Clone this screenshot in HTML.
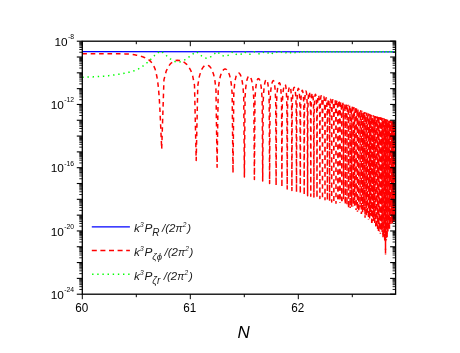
<!DOCTYPE html><html><head><meta charset="utf-8"><style>html,body{margin:0;padding:0;background:#fff;overflow:hidden}body{width:460px;height:353px;position:relative;font-family:"Liberation Sans",sans-serif}</style></head><body><svg width="460" height="353" viewBox="0 0 460 353" style="position:absolute;left:0;top:0;will-change:transform;opacity:0.9999">
<rect width="460" height="353" fill="#fff"/>
<clipPath id="cp"><rect x="82.3" y="41.2" width="313.3" height="253.0"/></clipPath>
<g clip-path="url(#cp)" fill="none">
<path d="M82.3,51.55 L395.6,51.80" stroke="#0000ff" stroke-width="1.3"/>
<path d="M82.30,53.70 L82.80,53.70 L83.30,53.70 L83.80,53.70 L84.30,53.70 L84.80,53.70 L85.30,53.70 L85.80,53.70 L86.30,53.70 L86.80,53.70 L87.30,53.70 L87.80,53.70 L88.30,53.70 L88.80,53.70 L89.30,53.70 L89.80,53.70 L90.30,53.70 L90.80,53.70 L91.30,53.70 L91.80,53.70 L92.30,53.70 L92.80,53.70 L93.30,53.70 L93.80,53.70 L94.30,53.70 L94.80,53.70 L95.30,53.70 L95.80,53.70 L96.30,53.70 L96.80,53.70 L97.30,53.70 L97.80,53.70 L98.30,53.70 L98.80,53.70 L99.30,53.70 L99.80,53.70 L100.30,53.70 L100.80,53.70 L101.30,53.70 L101.80,53.70 L102.30,53.70 L102.80,53.70 L103.30,53.70 L103.80,53.70 L104.30,53.70 L104.80,53.70 L105.30,53.70 L105.80,53.70 L106.30,53.71 L106.80,53.71 L107.30,53.71 L107.80,53.71 L108.30,53.71 L108.80,53.71 L109.30,53.71 L109.80,53.71 L110.30,53.71 L110.80,53.72 L111.30,53.72 L111.80,53.72 L112.30,53.72 L112.80,53.72 L113.30,53.72 L113.80,53.73 L114.30,53.73 L114.80,53.73 L115.30,53.73 L115.80,53.73 L116.30,53.74 L116.80,53.74 L117.30,53.74 L117.80,53.74 L118.30,53.75 L118.80,53.75 L119.30,53.75 L119.80,53.76 L120.30,53.76 L120.80,53.77 L121.30,53.78 L121.80,53.79 L122.30,53.80 L122.80,53.82 L123.30,53.83 L123.80,53.85 L124.30,53.87 L124.80,53.89 L125.30,53.91 L125.80,53.93 L126.30,53.96 L126.80,53.98 L127.30,54.01 L127.80,54.03 L128.30,54.06 L128.80,54.09 L129.30,54.12 L129.80,54.16 L130.30,54.20 L130.80,54.25 L131.30,54.31 L131.80,54.37 L132.30,54.44 L132.80,54.51 L133.30,54.59 L133.80,54.68 L134.30,54.77 L134.80,54.86 L135.30,54.96 L135.80,55.06 L136.30,55.16 L136.80,55.27 L137.30,55.38 L137.80,55.49 L138.30,55.61 L138.80,55.72 L139.30,55.84 L139.80,55.97 L140.30,56.10 L140.80,56.24 L141.30,56.38 L141.80,56.53 L142.30,56.69 L142.80,56.86 L143.30,57.04 L143.80,57.23 L144.30,57.43 L144.80,57.64 L145.30,57.86 L145.80,58.09 L146.30,58.34 L146.80,58.60 L147.30,58.88 L147.80,59.17 L148.30,59.47 L148.80,59.80 L149.30,60.18 L149.80,60.60 L150.30,61.09 L150.80,61.63 L151.30,62.23 L151.80,62.89 L152.30,63.61 L152.80,64.40 L153.30,65.26 L153.80,66.19 L154.30,67.19 L154.80,68.35 L155.30,69.84 L155.80,71.65 L156.30,73.78 L156.80,76.23 L157.30,79.00 L157.80,82.45 L158.30,86.91 L158.80,92.35 L159.30,98.70 L159.80,107.07 L160.30,117.85 L161.70,149.00 L163.95,79.89 L166.20,71.08 L168.44,66.39 L170.68,63.51 L172.92,61.70 L175.15,60.67 L177.37,60.26 L179.60,60.40 L181.86,61.07 L184.15,62.28 L186.42,64.10 L188.62,66.69 L190.71,70.34 L192.67,75.77 L194.50,85.32 L196.20,160.43 L197.77,85.86 L199.24,76.85 L200.65,71.97 L202.01,68.89 L203.34,66.90 L204.66,65.69 L205.97,65.11 L207.30,65.10 L208.62,65.62 L209.91,66.70 L211.18,68.40 L212.41,70.88 L213.62,74.44 L214.81,79.81 L215.96,89.31 L217.10,167.23 L218.22,89.80 L219.32,80.80 L220.42,75.93 L221.49,72.86 L222.55,70.89 L223.59,69.69 L224.60,69.12 L225.60,69.10 L226.58,69.62 L227.56,70.70 L228.52,72.41 L229.46,74.91 L230.38,78.48 L231.28,83.87 L232.15,93.38 L233.00,173.00 L233.79,93.88 L234.53,84.85 L235.23,79.94 L235.92,76.83 L236.59,74.81 L237.27,73.57 L237.97,72.95 L238.70,72.90 L239.45,73.38 L240.18,74.42 L240.91,76.08 L241.62,78.51 L242.33,82.03 L243.03,87.35 L243.72,96.80 L244.40,177.00 L245.06,97.19 L245.71,88.13 L246.34,83.19 L246.95,80.05 L247.57,78.01 L248.18,76.73 L248.79,76.09 L249.40,76.00 L250.03,76.45 L250.67,77.47 L251.32,79.12 L251.96,81.55 L252.60,85.07 L253.22,90.39 L253.82,99.84 L254.40,179.60 L254.95,100.18 L255.47,91.08 L255.98,86.10 L256.49,82.92 L256.98,80.82 L257.48,79.49 L257.98,78.77 L258.50,78.60 L259.03,78.95 L259.56,79.86 L260.10,81.38 L260.64,83.68 L261.18,87.06 L261.70,92.25 L262.21,101.56 L262.70,181.00 L263.18,101.67 L263.66,92.47 L264.13,87.40 L264.59,84.14 L265.05,81.97 L265.50,80.57 L265.95,79.81 L266.40,79.60 L266.83,79.92 L267.23,80.80 L267.63,82.29 L268.01,84.56 L268.40,87.92 L268.79,93.09 L269.19,102.39 L269.60,183.53 L270.04,102.50 L270.52,93.31 L271.03,88.26 L271.54,85.03 L272.05,82.88 L272.53,81.52 L272.98,80.78 L273.40,80.60 L273.77,80.95 L274.12,81.86 L274.45,83.41 L274.76,85.74 L275.08,89.16 L275.40,94.39 L275.74,103.78 L276.10,185.45 L276.49,104.08 L276.92,95.00 L277.37,90.07 L277.83,86.95 L278.29,84.90 L278.72,83.62 L279.13,82.94 L279.50,82.80 L279.83,83.17 L280.14,84.08 L280.43,85.61 L280.71,87.92 L280.99,91.31 L281.28,96.51 L281.58,105.84 L281.90,187.17 L282.26,106.02 L282.66,96.87 L283.09,91.87 L283.53,88.68 L283.97,86.58 L284.38,85.26 L284.76,84.55 L285.10,84.40 L285.40,84.77 L285.66,85.69 L285.91,87.24 L286.16,89.57 L286.40,92.99 L286.65,98.22 L286.91,107.59 L287.20,189.00 L287.52,107.87 L287.86,98.78 L288.21,93.82 L288.57,90.67 L288.93,88.60 L289.29,87.30 L289.63,86.61 L289.96,86.46 L290.27,86.83 L290.55,87.73 L290.79,89.24 L291.00,91.52 L291.21,94.88 L291.42,100.05 L291.65,109.36 L291.90,190.62 L292.19,109.47 L292.47,100.27 L292.77,95.20 L293.06,91.94 L293.36,89.77 L293.66,88.37 L293.96,87.60 L294.25,87.39 L294.55,87.70 L294.84,88.57 L295.13,90.07 L295.41,92.35 L295.69,95.71 L295.97,100.89 L296.24,110.20 L296.50,192.21 L296.76,110.31 L297.01,101.12 L297.25,96.06 L297.49,92.81 L297.73,90.65 L297.97,89.28 L298.20,88.53 L298.43,88.36 L298.66,88.73 L298.89,89.66 L299.12,91.23 L299.35,93.58 L299.59,97.03 L299.82,102.29 L300.06,111.68 L300.30,193.52 L300.54,111.97 L300.79,102.85 L301.04,97.86 L301.29,94.67 L301.54,92.56 L301.79,91.22 L302.04,90.48 L302.29,90.29 L302.54,90.62 L302.78,91.51 L303.03,93.02 L303.27,95.30 L303.51,98.67 L303.74,103.84 L303.97,113.14 L304.20,194.85 L304.42,113.23 L304.65,104.02 L304.87,98.94 L305.08,95.66 L305.30,93.48 L305.51,92.07 L305.73,91.28 L305.94,91.05 L306.15,91.36 L306.36,92.22 L306.57,93.70 L306.77,95.97 L306.98,99.32 L307.19,104.48 L307.39,113.78 L307.60,195.63 L307.81,113.87 L308.01,104.67 L308.21,99.60 L308.41,96.34 L308.62,94.17 L308.82,92.78 L309.02,92.02 L309.21,91.81 L309.41,92.14 L309.61,93.03 L309.81,94.54 L310.01,96.84 L310.21,100.22 L310.40,105.42 L310.60,114.74 L310.80,196.37 L311.00,114.90 L311.20,105.72 L311.39,100.68 L311.59,97.45 L311.79,95.30 L311.98,93.93 L312.18,93.19 L312.37,93.01 L312.56,93.35 L312.76,94.25 L312.95,95.78 L313.14,98.08 L313.33,101.48 L313.52,106.67 L313.71,116.00 L313.90,197.09 L314.09,116.16 L314.28,106.98 L314.47,101.93 L314.67,98.69 L314.86,96.54 L315.06,95.17 L315.26,94.42 L315.45,94.22 L315.65,94.55 L315.85,95.44 L316.04,96.95 L316.24,99.23 L316.43,102.61 L316.62,107.78 L316.81,117.09 L317.00,197.80 L317.19,117.20 L317.37,107.99 L317.56,102.92 L317.75,99.66 L317.93,97.48 L318.12,96.08 L318.30,95.31 L318.49,95.08 L318.67,95.40 L318.85,96.26 L319.03,97.75 L319.21,100.02 L319.38,103.37 L319.56,108.54 L319.73,117.83 L319.90,198.47 L320.07,117.91 L320.24,108.70 L320.40,103.62 L320.57,100.35 L320.73,98.16 L320.89,96.76 L321.06,95.98 L321.22,95.75 L321.38,96.06 L321.54,96.93 L321.70,98.42 L321.86,100.68 L322.02,104.04 L322.18,109.21 L322.34,118.51 L322.50,199.08 L322.66,118.60 L322.82,109.40 L322.98,104.32 L323.13,101.06 L323.29,98.89 L323.45,97.49 L323.61,96.73 L323.76,96.51 L323.92,96.84 L324.07,97.72 L324.23,99.22 L324.38,101.52 L324.54,104.90 L324.69,110.09 L324.85,119.42 L325.00,199.65 L325.15,119.59 L325.31,110.42 L325.46,105.38 L325.61,102.16 L325.76,100.02 L325.91,98.66 L326.06,97.92 L326.21,97.74 L326.36,98.10 L326.51,99.00 L326.66,100.53 L326.81,102.84 L326.96,106.23 L327.11,111.42 L327.25,120.74 L327.40,200.33 L327.55,120.88 L327.69,111.68 L327.83,106.61 L327.97,103.35 L328.11,101.17 L328.25,99.77 L328.39,98.99 L328.52,98.76 L328.66,99.07 L328.79,99.93 L328.93,101.41 L329.06,103.67 L329.20,107.02 L329.33,112.18 L329.47,121.46 L329.60,201.15 L329.73,121.53 L329.87,112.31 L330.00,107.22 L330.13,103.94 L330.26,101.74 L330.39,100.32 L330.52,99.53 L330.65,99.29 L330.78,99.58 L330.91,100.43 L331.04,101.90 L331.17,104.16 L331.30,107.49 L331.43,112.64 L331.56,121.92 L331.70,201.93 L331.84,121.97 L331.97,112.74 L332.11,107.65 L332.25,104.36 L332.38,102.16 L332.52,100.74 L332.65,99.94 L332.79,99.70 L332.92,99.99 L333.06,100.84 L333.19,102.31 L333.33,104.56 L333.46,107.90 L333.60,113.04 L333.73,122.32 L333.87,202.73 L334.00,122.37 L334.14,113.14 L334.27,108.05 L334.40,104.76 L334.54,102.56 L334.67,101.14 L334.80,100.35 L334.94,100.11 L335.07,100.40 L335.20,101.25 L335.33,102.72 L335.46,104.98 L335.59,108.32 L335.72,113.47 L335.86,122.75 L335.99,203.36 L336.11,122.82 L336.24,113.59 L336.37,108.51 L336.50,105.23 L336.63,103.03 L336.76,101.62 L336.89,100.83 L337.01,100.60" stroke="#ff0000" stroke-width="1.5" stroke-dasharray="4.6 3.8" stroke-linejoin="round"/>
<path d="M370.67,215.87 L370.73,137.08 L370.80,127.85 L370.87,122.76 L370.93,119.47 L371.00,117.27 L371.07,115.85 L371.13,115.05 L371.20,114.81 M393.80,221.25 L393.84,144.19 L393.89,134.94 L393.93,129.84 L393.97,126.53 L394.02,124.32 L394.06,122.89 L394.10,122.08 L394.15,121.82" stroke="#ff0000" stroke-width="1.5" stroke-dasharray="4.6 3.8" stroke-dashoffset="4.57" stroke-linejoin="round"/>
<path d="M385.52,254.60 L385.57,141.60 L385.62,132.36 L385.67,127.26 L385.72,123.96 L385.78,121.76 L385.83,120.33 L385.88,119.52 L385.93,119.27 M394.84,122.00 L394.88,122.28 L394.92,123.11 L394.96,124.57 L395.01,126.81 L395.05,130.13 L395.09,135.26 L395.13,144.53 L395.18,218.30" stroke="#ff0000" stroke-width="1.5" stroke-dasharray="4.6 3.8" stroke-dashoffset="3.51" stroke-linejoin="round"/>
<path d="M371.72,222.91 L371.79,137.47 L371.86,128.24 L371.92,123.14 L371.99,119.86 L372.05,117.65 L372.12,116.23 L372.18,115.43 L372.25,115.18 M373.78,220.73 L373.84,138.15 L373.90,128.91 L373.97,123.81 L374.03,120.52 L374.09,118.31 L374.16,116.88 L374.22,116.08 L374.28,115.83" stroke="#ff0000" stroke-width="1.5" stroke-dasharray="4.6 3.8" stroke-dashoffset="0.16" stroke-linejoin="round"/>
<path d="M337.01,100.60 L337.14,100.91 L337.27,101.76 L337.39,103.25 L337.52,105.51 L337.64,108.86 L337.77,114.02 L337.89,123.31 L338.02,199.29 M345.30,204.12 L345.41,126.21 L345.52,117.00 L345.62,111.92 L345.73,108.65 L345.83,106.47 L345.94,105.07 L346.04,104.29 L346.15,104.06 M350.18,207.92 L350.28,128.25 L350.37,119.04 L350.47,113.96 L350.57,110.69 L350.66,108.51 L350.76,107.10 L350.86,106.32 L350.95,106.09 M358.79,211.40 L358.87,131.94 L358.95,122.72 L359.04,117.64 L359.12,114.36 L359.20,112.17 L359.28,110.76 L359.37,109.97 L359.45,109.74 M393.10,219.33 L393.14,143.99 L393.18,134.75 L393.23,129.64 L393.27,126.34 L393.32,124.13 L393.36,122.69 L393.40,121.88 L393.45,121.63" stroke="#ff0000" stroke-width="1.5" stroke-dasharray="4.6 3.8" stroke-dashoffset="5.74" stroke-linejoin="round"/>
<path d="M351.71,207.01 L351.81,128.91 L351.90,119.70 L352.00,114.62 L352.09,111.34 L352.18,109.16 L352.28,107.75 L352.37,106.97 L352.46,106.74 M368.49,219.80 L368.56,136.17 L368.63,126.95 L368.70,121.86 L368.77,118.58 L368.84,116.38 L368.91,114.96 L368.97,114.17 L369.04,113.94 M383.45,118.46 L383.50,118.74 L383.56,119.58 L383.61,121.04 L383.66,123.28 L383.71,126.61 L383.77,131.75 L383.82,141.02 L383.87,236.16 M389.44,228.45 L389.49,142.90 L389.53,133.66 L389.58,128.55 L389.63,125.25 L389.68,123.04 L389.72,121.61 L389.77,120.81 L389.82,120.55" stroke="#ff0000" stroke-width="1.5" stroke-dasharray="4.6 3.8" stroke-dashoffset="4.10" stroke-linejoin="round"/>
<path d="M367.93,113.45 L368.00,113.75 L368.07,114.60 L368.14,116.08 L368.21,118.33 L368.28,121.68 L368.35,126.83 L368.42,136.11 L368.49,219.80 M377.67,228.69 L377.73,139.25 L377.79,130.01 L377.84,124.90 L377.90,121.61 L377.96,119.40 L378.02,117.96 L378.08,117.16 L378.14,116.91 M381.74,117.92 L381.79,118.20 L381.85,119.04 L381.90,120.50 L381.95,122.75 L382.01,126.08 L382.06,131.21 L382.12,140.48 L382.17,231.97 M392.74,121.43 L392.79,121.71 L392.83,122.54 L392.87,124.00 L392.92,126.24 L392.96,129.57 L393.01,134.70 L393.05,143.97 L393.10,219.33" stroke="#ff0000" stroke-width="1.5" stroke-dasharray="4.6 3.8" stroke-dashoffset="1.85" stroke-linejoin="round"/>
<path d="M362.63,213.46 L362.71,133.59 L362.79,124.37 L362.86,119.29 L362.94,116.01 L363.02,113.81 L363.09,112.40 L363.17,111.61 L363.25,111.38 M363.86,210.12 L363.93,134.12 L364.01,124.90 L364.08,119.81 L364.16,116.53 L364.23,114.33 L364.31,112.92 L364.38,112.13 L364.46,111.90 M372.76,221.35 L372.83,137.82 L372.89,128.59 L372.95,123.49 L373.02,120.20 L373.08,118.00 L373.15,116.57 L373.21,115.77 L373.27,115.52 M376.24,116.39 L376.30,116.68 L376.36,117.52 L376.42,118.98 L376.48,121.22 L376.54,124.55 L376.60,129.69 L376.66,138.96 L376.72,229.32 M385.11,119.00 L385.17,119.28 L385.22,120.12 L385.27,121.59 L385.32,123.83 L385.37,127.16 L385.42,132.30 L385.47,141.57 L385.52,254.60 M390.93,225.46 L390.98,143.36 L391.02,134.12 L391.07,129.01 L391.12,125.72 L391.16,123.50 L391.21,122.07 L391.25,121.26 L391.30,121.01" stroke="#ff0000" stroke-width="1.5" stroke-dasharray="4.6 3.8" stroke-dashoffset="4.62" stroke-linejoin="round"/>
<path d="M358.12,109.17 L358.21,109.47 L358.29,110.33 L358.37,111.81 L358.46,114.07 L358.54,117.42 L358.62,122.58 L358.71,131.87 L358.79,211.40 M365.64,112.42 L365.71,112.72 L365.79,113.57 L365.86,115.05 L365.93,117.31 L366.00,120.66 L366.08,125.81 L366.15,135.10 L366.22,215.28 M389.82,120.55 L389.86,120.84 L389.91,121.67 L389.96,123.13 L390.00,125.37 L390.05,128.70 L390.10,133.84 L390.14,143.10 L390.19,224.50" stroke="#ff0000" stroke-width="1.5" stroke-dasharray="4.6 3.8" stroke-dashoffset="4.39" stroke-linejoin="round"/>
<path d="M353.20,206.14 L353.30,129.55 L353.39,120.33 L353.48,115.25 L353.57,111.98 L353.66,109.79 L353.75,108.38 L353.84,107.60 L353.93,107.37 M361.38,213.91 L361.46,133.06 L361.54,123.84 L361.62,118.75 L361.70,115.47 L361.78,113.28 L361.85,111.87 L361.93,111.08 L362.01,110.85 M373.27,115.52 L373.34,115.81 L373.40,116.65 L373.46,118.12 L373.53,120.36 L373.59,123.69 L373.65,128.83 L373.72,138.11 L373.78,220.73 M380.41,233.50 L380.47,140.00 L380.53,130.76 L380.58,125.65 L380.64,122.36 L380.69,120.15 L380.75,118.72 L380.80,117.91 L380.86,117.66 M395.52,122.18 L395.56,122.46" stroke="#ff0000" stroke-width="1.5" stroke-dasharray="4.6 3.8" stroke-dashoffset="4.10" stroke-linejoin="round"/>
<path d="M342.69,102.68 L342.80,102.99 L342.92,103.86 L343.03,105.35 L343.14,107.62 L343.25,110.97 L343.36,116.14 L343.47,125.44 L343.58,199.34 M343.58,199.34 L343.69,125.52 L343.80,116.31 L343.91,111.24 L344.01,107.97 L344.12,105.78 L344.23,104.38 L344.34,103.60 L344.45,103.38 M369.59,218.47 L369.66,136.64 L369.73,127.42 L369.79,122.33 L369.86,119.04 L369.93,116.84 L370.00,115.42 L370.06,114.63 L370.13,114.39 M370.13,114.39 L370.20,114.69 L370.27,115.53 L370.33,117.01 L370.40,119.26 L370.47,122.60 L370.53,127.75 L370.60,137.03 L370.67,215.87 M379.97,117.41 L380.02,117.69 L380.08,118.53 L380.13,119.99 L380.19,122.23 L380.25,125.56 L380.30,130.70 L380.36,139.97 L380.41,233.50 M382.17,231.97 L382.22,140.52 L382.28,131.28 L382.33,126.17 L382.39,122.88 L382.44,120.67 L382.49,119.24 L382.55,118.44 L382.60,118.19 M384.29,118.73 L384.34,119.01 L384.39,119.85 L384.44,121.31 L384.50,123.56 L384.55,126.89 L384.60,132.02 L384.65,141.29 L384.70,240.67 M390.56,120.79 L390.61,121.07 L390.66,121.90 L390.70,123.36 L390.75,125.60 L390.79,128.93 L390.84,134.07 L390.89,143.33 L390.93,225.46" stroke="#ff0000" stroke-width="1.5" stroke-dasharray="4.6 3.8" stroke-dashoffset="2.21" stroke-linejoin="round"/>
<path d="M366.80,112.94 L366.87,113.24 L366.94,114.09 L367.01,115.57 L367.08,117.83 L367.15,121.17 L367.23,126.33 L367.30,135.61 L367.37,212.80 M374.28,115.83 L374.34,116.12 L374.41,116.96 L374.47,118.42 L374.53,120.67 L374.59,124.00 L374.65,129.14 L374.72,138.41 L374.78,222.94 M376.72,229.32 L376.78,138.99 L376.84,129.75 L376.90,124.65 L376.96,121.35 L377.02,119.14 L377.08,117.71 L377.14,116.91 L377.20,116.66" stroke="#ff0000" stroke-width="1.5" stroke-dasharray="4.6 3.8" stroke-dashoffset="4.43" stroke-linejoin="round"/>
<path d="M338.02,199.29 L338.14,123.40 L338.27,114.18 L338.39,109.10 L338.51,105.83 L338.63,103.65 L338.76,102.24 L338.88,101.46 L339.00,101.24 M341.79,201.22 L341.91,124.81 L342.02,115.60 L342.13,110.52 L342.25,107.26 L342.36,105.08 L342.47,103.68 L342.58,102.90 L342.69,102.68 M352.46,106.74 L352.56,107.05 L352.65,107.91 L352.74,109.40 L352.83,111.66 L352.93,115.01 L353.02,120.17 L353.11,129.47 L353.20,206.14 M354.65,205.59 L354.74,130.16 L354.83,120.95 L354.92,115.87 L355.01,112.59 L355.10,110.40 L355.19,108.99 L355.28,108.21 L355.37,107.98 M384.70,240.67 L384.75,141.33 L384.81,132.09 L384.86,126.99 L384.91,123.69 L384.96,121.48 L385.01,120.05 L385.06,119.25 L385.11,119.00 M386.73,119.54 L386.78,119.82 L386.83,120.66 L386.88,122.12 L386.93,124.37 L386.97,127.70 L387.02,132.83 L387.07,142.10 L387.12,237.50 M391.66,219.45 L391.71,143.58 L391.75,134.34 L391.80,129.23 L391.84,125.93 L391.89,123.72 L391.93,122.29 L391.98,121.48 L392.02,121.22" stroke="#ff0000" stroke-width="1.5" stroke-dasharray="4.6 3.8" stroke-dashoffset="8.27" stroke-linejoin="round"/>
<path d="M340.88,101.95 L341.00,102.26 L341.11,103.13 L341.22,104.62 L341.34,106.89 L341.45,110.25 L341.57,115.42 L341.68,124.72 L341.79,201.22 M344.45,103.38 L344.56,103.69 L344.66,104.55 L344.77,106.04 L344.88,108.31 L344.99,111.66 L345.09,116.83 L345.20,126.12 L345.30,204.12 M359.45,109.74 L359.53,110.04 L359.61,110.90 L359.69,112.38 L359.78,114.64 L359.86,117.99 L359.94,123.14 L360.02,132.43 L360.10,207.25 M360.10,207.25 L360.18,132.50 L360.26,123.28 L360.34,118.20 L360.42,114.92 L360.50,112.73 L360.58,111.32 L360.66,110.53 L360.74,110.30 M365.05,217.71 L365.13,134.64 L365.20,125.42 L365.27,120.33 L365.35,117.05 L365.42,114.86 L365.49,113.44 L365.57,112.65 L365.64,112.42 M372.25,115.18 L372.31,115.47 L372.37,116.32 L372.44,117.78 L372.50,120.03 L372.57,123.37 L372.63,128.51 L372.70,137.78 L372.76,221.35 M379.51,231.45 L379.57,139.75 L379.63,130.51 L379.68,125.40 L379.74,122.11 L379.80,119.90 L379.85,118.46 L379.91,117.66 L379.97,117.41 M383.87,236.16 L383.92,141.06 L383.98,131.82 L384.03,126.72 L384.08,123.42 L384.13,121.21 L384.18,119.78 L384.24,118.98 L384.29,118.73 M388.29,120.06 L388.34,120.34 L388.39,121.18 L388.44,122.64 L388.49,124.88 L388.53,128.21 L388.58,133.35 L388.63,142.62 L388.68,230.82 M388.68,230.82 L388.73,142.65 L388.77,133.41 L388.82,128.31 L388.87,125.01 L388.92,122.80 L388.97,121.37 L389.01,120.56 L389.06,120.31" stroke="#ff0000" stroke-width="1.5" stroke-dasharray="4.6 3.8" stroke-dashoffset="5.24" stroke-linejoin="round"/>
<path d="M356.76,108.58 L356.85,108.88 L356.93,109.74 L357.02,111.23 L357.10,113.49 L357.19,116.84 L357.28,122.00 L357.36,131.29 L357.45,211.83 M389.06,120.31 L389.11,120.59 L389.16,121.43 L389.20,122.89 L389.25,125.13 L389.30,128.46 L389.35,133.60 L389.39,142.86 L389.44,228.45 M393.45,121.63 L393.49,121.91 L393.54,122.74 L393.58,124.20 L393.62,126.44 L393.67,129.76 L393.71,134.90 L393.75,144.16 L393.80,221.25 M395.18,218.30 L395.22,144.55 L395.26,135.31 L395.30,130.20 L395.35,126.90 L395.39,124.68 L395.43,123.25 L395.47,122.43 L395.52,122.18" stroke="#ff0000" stroke-width="1.5" stroke-dasharray="4.6 3.8" stroke-dashoffset="5.29" stroke-linejoin="round"/>
<path d="M346.15,104.06 L346.25,104.37 L346.36,105.24 L346.46,106.73 L346.57,109.00 L346.67,112.35 L346.77,117.51 L346.88,126.81 L346.98,205.03 M346.98,205.03 L347.08,126.90 L347.18,117.69 L347.29,112.61 L347.39,109.34 L347.49,107.16 L347.59,105.75 L347.70,104.97 L347.80,104.75 M374.78,222.94 L374.84,138.44 L374.90,129.21 L374.96,124.11 L375.02,120.81 L375.09,118.60 L375.15,117.17 L375.21,116.37 L375.27,116.12" stroke="#ff0000" stroke-width="1.5" stroke-dasharray="4.6 3.8" stroke-dashoffset="7.64" stroke-linejoin="round"/>
<path d="M339.00,101.24 L339.12,101.55 L339.24,102.41 L339.36,103.91 L339.48,106.17 L339.60,109.53 L339.71,114.70 L339.83,123.99 L339.95,202.89 M349.40,105.43 L349.50,105.74 L349.59,106.60 L349.69,108.09 L349.79,110.36 L349.89,113.71 L349.99,118.87 L350.08,128.17 L350.18,207.92 M355.37,107.98 L355.45,108.29 L355.54,109.15 L355.63,110.63 L355.72,112.89 L355.81,116.24 L355.89,121.40 L355.98,130.69 L356.07,209.68 M360.74,110.30 L360.82,110.60 L360.90,111.46 L360.98,112.94 L361.06,115.20 L361.14,118.55 L361.22,123.70 L361.30,132.99 L361.38,213.91 M367.37,212.80 L367.44,135.68 L367.51,126.45 L367.58,121.37 L367.65,118.08 L367.72,115.89 L367.79,114.47 L367.86,113.69 L367.93,113.45 M378.14,116.91 L378.19,117.19 L378.25,118.03 L378.31,119.49 L378.37,121.73 L378.43,125.06 L378.48,130.20 L378.54,139.46 L378.60,230.98 M381.30,230.10 L381.35,140.25 L381.41,131.01 L381.46,125.91 L381.52,122.61 L381.57,120.41 L381.63,118.97 L381.68,118.17 L381.74,117.92 M391.30,121.01 L391.34,121.29 L391.39,122.13 L391.44,123.59 L391.48,125.83 L391.53,129.15 L391.57,134.28 L391.62,143.55 L391.66,219.45" stroke="#ff0000" stroke-width="1.5" stroke-dasharray="4.6 3.8" stroke-dashoffset="8.09" stroke-linejoin="round"/>
<path d="M339.95,202.89 L340.07,124.08 L340.18,114.87 L340.30,109.80 L340.42,106.53 L340.53,104.35 L340.65,102.95 L340.76,102.17 L340.88,101.95 M350.95,106.09 L351.05,106.40 L351.14,107.26 L351.24,108.75 L351.33,111.02 L351.43,114.37 L351.52,119.53 L351.62,128.83 L351.71,207.01 M392.38,224.06 L392.43,143.79 L392.47,134.55 L392.52,129.44 L392.56,126.14 L392.61,123.93 L392.65,122.49 L392.70,121.68 L392.74,121.43" stroke="#ff0000" stroke-width="1.5" stroke-dasharray="4.6 3.8" stroke-dashoffset="4.91" stroke-linejoin="round"/>
<path d="M366.22,215.28 L366.29,135.16 L366.37,125.94 L366.44,120.85 L366.51,117.57 L366.58,115.38 L366.65,113.96 L366.73,113.18 L366.80,112.94 M375.76,226.13 L375.82,138.72 L375.88,129.49 L375.94,124.38 L376.00,121.09 L376.06,118.88 L376.12,117.45 L376.18,116.64 L376.24,116.39 M377.20,116.66 L377.26,116.94 L377.32,117.77 L377.37,119.24 L377.43,121.48 L377.49,124.81 L377.55,129.94 L377.61,139.21 L377.67,228.69 M378.60,230.98 L378.66,139.50 L378.71,130.26 L378.77,125.15 L378.83,121.86 L378.89,119.65 L378.94,118.22 L379.00,117.41 L379.06,117.16" stroke="#ff0000" stroke-width="1.5" stroke-dasharray="4.6 3.8" stroke-dashoffset="1.39" stroke-linejoin="round"/>
<path d="M357.45,211.83 L357.53,131.36 L357.62,122.14 L357.70,117.06 L357.78,113.78 L357.87,111.59 L357.95,110.18 L358.04,109.40 L358.12,109.17 M392.02,121.22 L392.07,121.50 L392.11,122.34 L392.16,123.80 L392.20,126.04 L392.25,129.36 L392.29,134.50 L392.34,143.76 L392.38,224.06" stroke="#ff0000" stroke-width="1.5" stroke-dasharray="4.6 3.8" stroke-dashoffset="3.29" stroke-linejoin="round"/>
<path d="M387.12,237.50 L387.17,142.14 L387.22,132.90 L387.27,127.79 L387.32,124.50 L387.37,122.29 L387.42,120.86 L387.47,120.05 L387.52,119.80" stroke="#ff0000" stroke-width="1.5" stroke-dasharray="4.6 3.8" stroke-dashoffset="7.93" stroke-linejoin="round"/>
<path d="M347.80,104.75 L347.90,105.06 L348.00,105.92 L348.10,107.41 L348.20,109.68 L348.30,113.04 L348.40,118.20 L348.50,127.49 L348.60,208.13 M369.04,113.94 L369.11,114.23 L369.18,115.08 L369.25,116.56 L369.32,118.81 L369.39,122.15 L369.45,127.30 L369.52,136.59 L369.59,218.47 M375.27,116.12 L375.33,116.41 L375.39,117.24 L375.45,118.71 L375.51,120.95 L375.58,124.28 L375.64,129.42 L375.70,138.69 L375.76,226.13" stroke="#ff0000" stroke-width="1.5" stroke-dasharray="4.6 3.8" stroke-dashoffset="2.88" stroke-linejoin="round"/>
<path d="M348.60,208.13 L348.70,127.58 L348.80,118.37 L348.90,113.29 L349.00,110.02 L349.10,107.84 L349.20,106.43 L349.30,105.65 L349.40,105.43 M363.25,111.38 L363.32,111.68 L363.40,112.53 L363.48,114.01 L363.55,116.27 L363.63,119.61 L363.70,124.77 L363.78,134.05 L363.86,210.12 M364.46,111.90 L364.53,112.20 L364.61,113.05 L364.68,114.53 L364.75,116.79 L364.83,120.13 L364.90,125.29 L364.98,134.57 L365.05,217.71 M383.03,237.25 L383.08,140.78 L383.13,131.55 L383.19,126.44 L383.24,123.15 L383.29,120.94 L383.35,119.51 L383.40,118.71 L383.45,118.46 M385.93,119.27 L385.98,119.56 L386.03,120.39 L386.08,121.86 L386.13,124.10 L386.18,127.43 L386.23,132.57 L386.28,141.84 L386.33,240.24 M386.33,240.24 L386.38,141.87 L386.43,132.63 L386.48,127.53 L386.53,124.23 L386.58,122.02 L386.63,120.59 L386.68,119.79 L386.73,119.54 M390.19,224.50 L390.24,143.13 L390.28,133.89 L390.33,128.79 L390.38,125.49 L390.42,123.28 L390.47,121.85 L390.52,121.04 L390.56,120.79 M394.15,121.82 L394.19,122.10 L394.23,122.93 L394.28,124.39 L394.32,126.63 L394.36,129.95 L394.41,135.08 L394.45,144.35 L394.49,220.55" stroke="#ff0000" stroke-width="1.5" stroke-dasharray="4.6 3.8" stroke-dashoffset="5.92" stroke-linejoin="round"/>
<path d="M353.93,107.37 L354.02,107.68 L354.11,108.54 L354.21,110.02 L354.30,112.29 L354.39,115.64 L354.48,120.79 L354.56,130.09 L354.65,205.59 M362.01,110.85 L362.09,111.15 L362.17,112.00 L362.24,113.48 L362.32,115.74 L362.40,119.09 L362.48,124.24 L362.55,133.53 L362.63,213.46 M371.20,114.81 L371.26,115.10 L371.33,115.95 L371.40,117.42 L371.46,119.67 L371.53,123.00 L371.59,128.15 L371.66,137.43 L371.72,222.91 M379.06,117.16 L379.12,117.44 L379.17,118.28 L379.23,119.74 L379.29,121.98 L379.34,125.31 L379.40,130.45 L379.46,139.71 L379.51,231.45 M380.86,117.66 L380.91,117.94 L380.97,118.78 L381.02,120.24 L381.08,122.49 L381.13,125.81 L381.19,130.95 L381.24,140.22 L381.30,230.10" stroke="#ff0000" stroke-width="1.5" stroke-dasharray="4.6 3.8" stroke-dashoffset="3.89" stroke-linejoin="round"/>
<path d="M356.07,209.68 L356.16,130.77 L356.24,121.55 L356.33,116.47 L356.42,113.19 L356.50,111.00 L356.59,109.59 L356.67,108.81 L356.76,108.58 M382.60,118.19 L382.65,118.47 L382.71,119.31 L382.76,120.77 L382.81,123.01 L382.87,126.34 L382.92,131.48 L382.97,140.75 L383.03,237.25 M387.52,119.80 L387.57,120.09 L387.61,120.92 L387.66,122.39 L387.71,124.63 L387.76,127.96 L387.81,133.09 L387.86,142.36 L387.91,231.38 M387.91,231.38 L387.96,142.40 L388.00,133.16 L388.05,128.05 L388.10,124.76 L388.15,122.55 L388.20,121.12 L388.25,120.31 L388.29,120.06 M394.49,220.55 L394.54,144.37 L394.58,135.13 L394.62,130.02 L394.66,126.72 L394.71,124.51 L394.75,123.07 L394.79,122.26 L394.84,122.00" stroke="#ff0000" stroke-width="1.5" stroke-dasharray="4.6 3.8" stroke-dashoffset="3.25" stroke-linejoin="round"/>
<path d="M82.30,77.20 L82.55,77.20 L82.80,77.19 L83.05,77.19 L83.30,77.18 L83.55,77.18 L83.80,77.17 L84.05,77.17 L84.30,77.16 L84.55,77.16 L84.80,77.15 L85.05,77.15 L85.30,77.14 L85.55,77.13 L85.80,77.13 L86.05,77.12 L86.30,77.12 L86.55,77.11 L86.80,77.10 L87.05,77.09 L87.30,77.09 L87.55,77.08 L87.80,77.07 L88.05,77.06 L88.30,77.06 L88.55,77.05 L88.80,77.04 L89.05,77.03 L89.30,77.02 L89.55,77.02 L89.80,77.01 L90.05,77.00 L90.30,76.99 L90.55,76.98 L90.80,76.97 L91.05,76.96 L91.30,76.95 L91.55,76.94 L91.80,76.93 L92.05,76.92 L92.30,76.91 L92.55,76.90 L92.80,76.89 L93.05,76.88 L93.30,76.86 L93.55,76.85 L93.80,76.84 L94.05,76.83 L94.30,76.82 L94.55,76.80 L94.80,76.79 L95.05,76.78 L95.30,76.76 L95.55,76.75 L95.80,76.74 L96.05,76.72 L96.30,76.71 L96.55,76.69 L96.80,76.68 L97.05,76.66 L97.30,76.65 L97.55,76.63 L97.80,76.62 L98.05,76.60 L98.30,76.59 L98.55,76.57 L98.80,76.55 L99.05,76.54 L99.30,76.52 L99.55,76.50 L99.80,76.49 L100.05,76.47 L100.30,76.45 L100.55,76.43 L100.80,76.41 L101.05,76.40 L101.30,76.38 L101.55,76.36 L101.80,76.34 L102.05,76.31 L102.30,76.29 L102.55,76.27 L102.80,76.25 L103.05,76.23 L103.30,76.21 L103.55,76.18 L103.80,76.16 L104.05,76.14 L104.30,76.11 L104.55,76.09 L104.80,76.06 L105.05,76.04 L105.30,76.01 L105.55,75.99 L105.80,75.96 L106.05,75.94 L106.30,75.91 L106.55,75.88 L106.80,75.86 L107.05,75.83 L107.30,75.80 L107.55,75.78 L107.80,75.75 L108.05,75.72 L108.30,75.69 L108.55,75.67 L108.80,75.64 L109.05,75.61 L109.30,75.58 L109.55,75.55 L109.80,75.52 L110.05,75.49 L110.30,75.46 L110.55,75.43 L110.80,75.40 L111.05,75.37 L111.30,75.34 L111.55,75.31 L111.80,75.28 L112.05,75.25 L112.30,75.21 L112.55,75.18 L112.80,75.14 L113.05,75.11 L113.30,75.08 L113.55,75.04 L113.80,75.00 L114.05,74.97 L114.30,74.93 L114.55,74.90 L114.80,74.86 L115.05,74.82 L115.30,74.78 L115.55,74.75 L115.80,74.71 L116.05,74.67 L116.30,74.63 L116.55,74.59 L116.80,74.55 L117.05,74.51 L117.30,74.47 L117.55,74.43 L117.80,74.39 L118.05,74.35 L118.30,74.31 L118.55,74.27 L118.80,74.23 L119.05,74.19 L119.30,74.15 L119.55,74.11 L119.80,74.07 L120.05,74.03 L120.30,73.98 L120.55,73.94 L120.80,73.90 L121.05,73.85 L121.30,73.81 L121.55,73.77 L121.80,73.72 L122.05,73.68 L122.30,73.63 L122.55,73.58 L122.80,73.54 L123.05,73.49 L123.30,73.44 L123.55,73.40 L123.80,73.35 L124.05,73.30 L124.30,73.25 L124.55,73.20 L124.80,73.15 L125.05,73.10 L125.30,73.05 L125.55,73.00 L125.80,72.94 L126.05,72.89 L126.30,72.84 L126.55,72.78 L126.80,72.73 L127.05,72.67 L127.30,72.62 L127.55,72.56 L127.80,72.51 L128.05,72.45 L128.30,72.40 L128.55,72.34 L128.80,72.28 L129.05,72.22 L129.30,72.16 L129.55,72.10 L129.80,72.04 L130.05,71.97 L130.30,71.91 L130.55,71.85 L130.80,71.78 L131.05,71.71 L131.30,71.64 L131.55,71.57 L131.80,71.50 L132.05,71.43 L132.30,71.35 L132.55,71.28 L132.80,71.20 L133.05,71.12 L133.30,71.04 L133.55,70.95 L133.80,70.87 L134.05,70.78 L134.30,70.69 L134.55,70.60 L134.80,70.50 L135.05,70.40 L135.30,70.31 L135.55,70.20 L135.80,70.10 L136.05,70.00 L136.30,69.89 L136.55,69.78 L136.80,69.67 L137.05,69.55 L137.30,69.44 L137.55,69.32 L137.80,69.20 L138.05,69.08 L138.30,68.96 L138.55,68.83 L138.80,68.70 L139.05,68.57 L139.30,68.44 L139.55,68.30 L139.80,68.16 L140.05,68.01 L140.30,67.86 L140.55,67.70 L140.80,67.55 L141.05,67.38 L141.30,67.22 L141.55,67.05 L141.80,66.87 L142.05,66.70 L142.30,66.52 L142.55,66.34 L142.80,66.16 L143.05,65.97 L143.30,65.79 L143.55,65.60 L143.80,65.41 L144.05,65.22 L144.30,65.03 L144.55,64.84 L144.80,64.64 L145.05,64.45 L145.30,64.24 L145.55,64.04 L145.80,63.83 L146.05,63.61 L146.30,63.39 L146.55,63.17 L146.80,62.95 L147.05,62.73 L147.30,62.50 L147.55,62.27 L147.80,62.04 L148.05,61.81 L148.30,61.58 L148.55,61.35 L148.80,61.12 L149.05,60.89 L149.30,60.65 L149.55,60.40 L149.80,60.16 L150.05,59.91 L150.30,59.67 L150.55,59.42 L150.80,59.17 L151.05,58.92 L151.30,58.68 L151.55,58.43 L151.80,58.18 L152.05,57.94 L152.30,57.70 L152.55,57.46 L152.80,57.21 L153.05,56.97 L153.30,56.72 L153.55,56.47 L153.80,56.23 L154.05,55.98 L154.30,55.74 L154.55,55.50 L154.80,55.26 L155.05,55.03 L155.30,54.80 L155.55,54.58 L155.80,54.36 L156.05,54.16 L156.30,53.96 L156.55,53.76 L156.80,53.56 L157.05,53.37 L157.30,53.19 L157.55,53.01 L157.80,52.84 L158.05,52.67 L158.30,52.52 L158.55,52.37 L158.80,52.23 L159.05,52.10 L159.30,51.98 L159.55,51.86 L159.80,51.74 L160.05,51.64 L160.30,51.54 L160.55,51.68 L160.80,52.15 L161.05,52.00 L161.30,51.85 L161.55,51.70 L161.80,51.70 L162.05,51.90 L162.30,52.10 L162.55,52.31 L162.80,52.52 L163.05,52.73 L163.30,52.94 L163.55,53.15 L163.80,53.36 L164.05,53.57 L164.30,53.79 L164.55,54.00 L164.80,54.22 L165.05,54.43 L165.30,54.65 L165.55,54.87 L165.80,55.08 L166.05,55.30 L166.30,55.52 L166.55,55.73 L166.80,55.95 L167.05,56.17 L167.30,56.38 L167.55,56.59 L167.80,56.81 L168.05,57.02 L168.30,57.23 L168.55,57.44 L168.80,57.65 L169.05,57.85 L169.30,58.05 L169.55,58.25 L169.80,58.45 L170.05,58.65 L170.30,58.84 L170.55,59.03 L170.80,59.21 L171.05,59.39 L171.30,59.57 L171.55,59.74 L171.80,59.91 L172.05,60.07 L172.30,60.23 L172.55,60.39 L172.80,60.54 L173.05,60.68 L173.30,60.82 L173.55,60.95 L173.80,61.07 L174.05,61.19 L174.30,61.30 L174.55,61.41 L174.80,61.51 L175.05,61.60 L175.30,61.68 L175.55,61.76 L175.80,61.83 L176.05,61.89 L176.30,61.94 L176.55,61.99 L176.80,62.03 L177.05,62.06 L177.30,62.08 L177.55,62.10 L177.80,62.11 L178.05,62.11 L178.30,62.10 L178.55,62.08 L178.80,62.06 L179.05,62.03 L179.30,61.99 L179.55,61.95 L179.80,61.90 L180.05,61.84 L180.30,61.77 L180.55,61.70 L180.80,61.62 L181.05,61.54 L181.30,61.45 L181.55,61.36 L181.80,61.26 L182.05,61.15 L182.30,61.04 L182.55,60.93 L182.80,60.81 L183.05,60.69 L183.30,60.57 L183.55,60.44 L183.80,60.30 L184.05,60.17 L184.30,60.03 L184.55,59.88 L184.80,59.74 L185.05,59.59 L185.30,59.44 L185.55,59.28 L185.80,59.13 L186.05,58.97 L186.30,58.80 L186.55,58.64 L186.80,58.48 L187.05,58.31 L187.30,58.14 L187.55,57.97 L187.80,57.80 L188.05,57.62 L188.30,57.45 L188.55,57.27 L188.80,57.09 L189.05,56.91 L189.30,56.73 L189.55,56.55 L189.80,56.37 L190.05,56.19 L190.30,56.00 L190.55,55.82 L190.80,55.63 L191.05,55.45 L191.30,55.26 L191.55,55.08 L191.80,54.89 L192.05,54.70 L192.30,54.52 L192.55,54.33 L192.80,54.14 L193.05,53.95 L193.30,53.77 L193.55,53.58 L193.80,53.39 L194.05,53.21 L194.30,53.02 L194.55,52.84 L194.80,52.65 L195.05,52.47 L195.30,52.29 L195.55,52.11 L195.80,51.93 L196.05,51.75 L196.30,51.71 L196.55,51.89 L196.80,52.08 L197.05,52.27 L197.30,52.46 L197.55,52.65 L197.80,52.85 L198.05,53.05 L198.30,53.25 L198.55,53.46 L198.80,53.66 L199.05,53.87 L199.30,54.08 L199.55,54.29 L199.80,54.49 L200.05,54.70 L200.30,54.91 L200.55,55.11 L200.80,55.32 L201.05,55.52 L201.30,55.71 L201.55,55.91 L201.80,56.10 L202.05,56.28 L202.30,56.46 L202.55,56.63 L202.80,56.80 L203.05,56.96 L203.30,57.11 L203.55,57.25 L203.80,57.39 L204.05,57.51 L204.30,57.63 L204.55,57.73 L204.80,57.82 L205.05,57.90 L205.30,57.98 L205.55,58.03 L205.80,58.08 L206.05,58.12 L206.30,58.14 L206.55,58.15 L206.80,58.15 L207.05,58.14 L207.30,58.12 L207.55,58.08 L207.80,58.04 L208.05,57.98 L208.30,57.92 L208.55,57.84 L208.80,57.75 L209.05,57.65 L209.30,57.55 L209.55,57.43 L209.80,57.30 L210.05,57.17 L210.30,57.02 L210.55,56.87 L210.80,56.72 L211.05,56.55 L211.30,56.38 L211.55,56.20 L211.80,56.02 L212.05,55.83 L212.30,55.63 L212.55,55.44 L212.80,55.24 L213.05,55.03 L213.30,54.82 L213.55,54.62 L213.80,54.41 L214.05,54.19 L214.30,53.98 L214.55,53.77 L214.80,53.55 L215.05,53.34 L215.30,53.13 L215.55,52.92 L215.80,52.71 L216.05,52.50 L216.30,52.30 L216.55,52.09 L216.80,51.89 L217.05,51.70 L217.30,51.81 L217.55,52.01 L217.80,52.21 L218.05,52.41 L218.30,52.61 L218.55,52.80 L218.80,53.00 L219.05,53.20 L219.30,53.39 L219.55,53.59 L219.80,53.78 L220.05,53.97 L220.30,54.15 L220.55,54.33 L220.80,54.51 L221.05,54.68 L221.30,54.84 L221.55,55.00 L221.80,55.15 L222.05,55.29 L222.30,55.43 L222.55,55.55 L222.80,55.67 L223.05,55.78 L223.30,55.87 L223.55,55.96 L223.80,56.03 L224.05,56.09 L224.30,56.14 L224.55,56.18 L224.80,56.20 L225.05,56.22 L225.30,56.21 L225.55,56.20 L225.80,56.17 L226.05,56.13 L226.30,56.08 L226.55,56.01 L226.80,55.93 L227.05,55.84 L227.30,55.74 L227.55,55.62 L227.80,55.50 L228.05,55.37 L228.30,55.22 L228.55,55.07 L228.80,54.91 L229.05,54.75 L229.30,54.58 L229.55,54.40 L229.80,54.21 L230.05,54.03 L230.30,53.83 L230.55,53.64 L230.80,53.44 L231.05,53.24 L231.30,53.04 L231.55,52.83 L231.80,52.63 L232.05,52.43 L232.30,52.23 L232.55,52.03 L232.80,51.83 L233.05,51.71 L233.30,51.91 L233.55,52.12 L233.80,52.33 L234.05,52.54 L234.30,52.76 L234.55,52.97 L234.80,53.19 L235.05,53.40 L235.30,53.60 L235.55,53.80 L235.80,53.99 L236.05,54.16 L236.30,54.32 L236.55,54.47 L236.80,54.60 L237.05,54.71 L237.30,54.80 L237.55,54.87 L237.80,54.93 L238.05,54.96 L238.30,54.98 L238.55,54.98 L238.80,54.96 L239.05,54.93 L239.30,54.88 L239.55,54.81 L239.80,54.73 L240.05,54.64 L240.30,54.53 L240.55,54.41 L240.80,54.28 L241.05,54.14 L241.30,53.99 L241.55,53.83 L241.80,53.66 L242.05,53.48 L242.30,53.30 L242.55,53.11 L242.80,52.92 L243.05,52.73 L243.30,52.53 L243.55,52.34 L243.80,52.14 L244.05,51.95 L244.30,51.76 L244.55,51.79 L244.80,51.99 L245.05,52.18 L245.30,52.37 L245.55,52.56 L245.80,52.75 L246.05,52.94 L246.30,53.12 L246.55,53.29 L246.80,53.45 L247.05,53.60 L247.30,53.74 L247.55,53.86 L247.80,53.97 L248.05,54.06 L248.30,54.13 L248.55,54.19 L248.80,54.23 L249.05,54.25 L249.30,54.25 L249.55,54.23 L249.80,54.20 L250.05,54.15 L250.30,54.09 L250.55,54.01 L250.80,53.91 L251.05,53.81 L251.30,53.69 L251.55,53.57 L251.80,53.43 L252.05,53.29 L252.30,53.14 L252.55,52.98 L252.80,52.82 L253.05,52.65 L253.30,52.48 L253.55,52.30 L253.80,52.12 L254.05,51.94 L254.30,51.76 L254.55,51.80 L254.80,51.98 L255.05,52.17 L255.30,52.36 L255.55,52.55 L255.80,52.73 L256.05,52.90 L256.30,53.07 L256.55,53.22 L256.80,53.35 L257.05,53.47 L257.30,53.58 L257.55,53.66 L257.80,53.72 L258.05,53.76 L258.30,53.78 L258.55,53.78 L258.80,53.76 L259.05,53.72 L259.30,53.66 L259.55,53.59 L259.80,53.50 L260.05,53.40 L260.30,53.28 L260.55,53.15 L260.80,53.01 L261.05,52.86 L261.30,52.70 L261.55,52.53 L261.80,52.36 L262.05,52.18 L262.30,51.99 L262.55,51.81 L262.80,51.77 L263.05,51.96 L263.30,52.15 L263.55,52.34 L263.80,52.52 L264.05,52.70 L264.30,52.87 L264.55,53.03 L264.80,53.17 L265.05,53.30 L265.30,53.41 L265.55,53.50 L265.80,53.57 L266.05,53.61 L266.30,53.63 L266.55,53.62 L266.80,53.59 L267.05,53.52 L267.30,53.43 L267.55,53.31 L267.80,53.16 L268.05,52.99 L268.30,52.80 L268.55,52.59 L268.80,52.38 L269.05,52.16 L269.30,51.95 L269.55,51.74 L269.80,51.86 L270.05,52.05 L270.30,52.23 L270.55,52.40 L270.80,52.56 L271.05,52.71 L271.30,52.85 L271.55,52.98 L271.80,53.09 L272.05,53.20 L272.30,53.29 L272.55,53.37 L272.80,53.43 L273.05,53.47 L273.30,53.49 L273.55,53.48 L273.80,53.43 L274.05,53.35 L274.30,53.23 L274.55,53.07 L274.80,52.88 L275.05,52.66 L275.30,52.43 L275.55,52.19 L275.80,51.96 L276.05,51.75 L276.30,51.86 L276.55,52.05 L276.80,52.23 L277.05,52.39 L277.30,52.53 L277.55,52.67 L277.80,52.79 L278.05,52.90 L278.30,52.99 L278.55,53.07 L278.80,53.14 L279.05,53.19 L279.30,53.21 L279.55,53.21 L279.80,53.18 L280.05,53.11 L280.30,53.00 L280.55,52.85 L280.80,52.66 L281.05,52.45 L281.30,52.23 L281.55,52.00 L281.80,51.79 L282.05,51.82 L282.30,52.00 L282.55,52.17 L282.80,52.32 L283.05,52.45 L283.30,52.57 L283.55,52.68 L283.80,52.78 L284.05,52.87 L284.30,52.94 L284.55,53.00 L284.80,53.03 L285.05,53.05 L285.30,53.03 L285.55,52.96 L285.80,52.85 L286.05,52.70 L286.30,52.50 L286.55,52.28 L286.80,52.05 L287.05,51.83 L287.30,51.79 L287.55,51.97 L287.80,52.13 L288.05,52.28 L288.30,52.42 L288.55,52.54 L288.80,52.64 L289.05,52.72 L289.30,52.79 L289.55,52.83 L289.80,52.85 L290.05,52.85 L290.30,52.82 L290.55,52.75 L290.80,52.63 L291.05,52.46 L291.30,52.24 L291.55,52.01 L291.80,51.79 L292.05,51.83 L292.30,52.00 L292.55,52.17 L292.80,52.33 L293.05,52.47 L293.30,52.58 L293.55,52.67 L293.80,52.74 L294.05,52.78 L294.30,52.78 L294.55,52.76 L294.80,52.70 L295.05,52.62 L295.30,52.51 L295.55,52.38 L295.80,52.22 L296.05,52.05 L296.30,51.87 L296.55,51.76 L296.80,51.95 L297.05,52.13 L297.30,52.31 L297.55,52.46 L297.80,52.58 L298.05,52.67 L298.30,52.71 L298.55,52.70 L298.80,52.65 L299.05,52.55 L299.30,52.42 L299.55,52.27 L299.80,52.09" stroke="#00ff00" stroke-width="1.5" stroke-dasharray="1.4 3.75"/>
<path d="M301.5,51.72 L395.6,51.80" stroke="#00ff00" stroke-width="1.5" stroke-dasharray="1.4 1.9"/>
</g>
<rect x="82.3" y="41.2" width="313.3" height="253.0" fill="none" stroke="#000" stroke-width="1.3"/>
<line x1="76.80" y1="41.20" x2="82.30" y2="41.20" stroke="#000" stroke-width="1.1"/>
<line x1="390.10" y1="41.20" x2="395.60" y2="41.20" stroke="#000" stroke-width="1.1"/>
<line x1="79.30" y1="52.25" x2="82.30" y2="52.25" stroke="#000" stroke-width="0.9"/>
<line x1="392.60" y1="52.25" x2="395.60" y2="52.25" stroke="#000" stroke-width="0.9"/>
<line x1="79.30" y1="49.47" x2="82.30" y2="49.47" stroke="#000" stroke-width="0.9"/>
<line x1="392.60" y1="49.47" x2="395.60" y2="49.47" stroke="#000" stroke-width="0.9"/>
<line x1="79.30" y1="47.49" x2="82.30" y2="47.49" stroke="#000" stroke-width="0.9"/>
<line x1="392.60" y1="47.49" x2="395.60" y2="47.49" stroke="#000" stroke-width="0.9"/>
<line x1="79.30" y1="45.96" x2="82.30" y2="45.96" stroke="#000" stroke-width="0.9"/>
<line x1="392.60" y1="45.96" x2="395.60" y2="45.96" stroke="#000" stroke-width="0.9"/>
<line x1="79.30" y1="44.71" x2="82.30" y2="44.71" stroke="#000" stroke-width="0.9"/>
<line x1="392.60" y1="44.71" x2="395.60" y2="44.71" stroke="#000" stroke-width="0.9"/>
<line x1="79.30" y1="43.65" x2="82.30" y2="43.65" stroke="#000" stroke-width="0.9"/>
<line x1="392.60" y1="43.65" x2="395.60" y2="43.65" stroke="#000" stroke-width="0.9"/>
<line x1="79.30" y1="42.73" x2="82.30" y2="42.73" stroke="#000" stroke-width="0.9"/>
<line x1="392.60" y1="42.73" x2="395.60" y2="42.73" stroke="#000" stroke-width="0.9"/>
<line x1="79.30" y1="41.92" x2="82.30" y2="41.92" stroke="#000" stroke-width="0.9"/>
<line x1="392.60" y1="41.92" x2="395.60" y2="41.92" stroke="#000" stroke-width="0.9"/>
<line x1="76.80" y1="57.01" x2="82.30" y2="57.01" stroke="#000" stroke-width="1.1"/>
<line x1="390.10" y1="57.01" x2="395.60" y2="57.01" stroke="#000" stroke-width="1.1"/>
<line x1="79.30" y1="68.06" x2="82.30" y2="68.06" stroke="#000" stroke-width="0.9"/>
<line x1="392.60" y1="68.06" x2="395.60" y2="68.06" stroke="#000" stroke-width="0.9"/>
<line x1="79.30" y1="65.28" x2="82.30" y2="65.28" stroke="#000" stroke-width="0.9"/>
<line x1="392.60" y1="65.28" x2="395.60" y2="65.28" stroke="#000" stroke-width="0.9"/>
<line x1="79.30" y1="63.30" x2="82.30" y2="63.30" stroke="#000" stroke-width="0.9"/>
<line x1="392.60" y1="63.30" x2="395.60" y2="63.30" stroke="#000" stroke-width="0.9"/>
<line x1="79.30" y1="61.77" x2="82.30" y2="61.77" stroke="#000" stroke-width="0.9"/>
<line x1="392.60" y1="61.77" x2="395.60" y2="61.77" stroke="#000" stroke-width="0.9"/>
<line x1="79.30" y1="60.52" x2="82.30" y2="60.52" stroke="#000" stroke-width="0.9"/>
<line x1="392.60" y1="60.52" x2="395.60" y2="60.52" stroke="#000" stroke-width="0.9"/>
<line x1="79.30" y1="59.46" x2="82.30" y2="59.46" stroke="#000" stroke-width="0.9"/>
<line x1="392.60" y1="59.46" x2="395.60" y2="59.46" stroke="#000" stroke-width="0.9"/>
<line x1="79.30" y1="58.54" x2="82.30" y2="58.54" stroke="#000" stroke-width="0.9"/>
<line x1="392.60" y1="58.54" x2="395.60" y2="58.54" stroke="#000" stroke-width="0.9"/>
<line x1="79.30" y1="57.74" x2="82.30" y2="57.74" stroke="#000" stroke-width="0.9"/>
<line x1="392.60" y1="57.74" x2="395.60" y2="57.74" stroke="#000" stroke-width="0.9"/>
<line x1="76.80" y1="72.83" x2="82.30" y2="72.83" stroke="#000" stroke-width="1.1"/>
<line x1="390.10" y1="72.83" x2="395.60" y2="72.83" stroke="#000" stroke-width="1.1"/>
<line x1="79.30" y1="83.88" x2="82.30" y2="83.88" stroke="#000" stroke-width="0.9"/>
<line x1="392.60" y1="83.88" x2="395.60" y2="83.88" stroke="#000" stroke-width="0.9"/>
<line x1="79.30" y1="81.09" x2="82.30" y2="81.09" stroke="#000" stroke-width="0.9"/>
<line x1="392.60" y1="81.09" x2="395.60" y2="81.09" stroke="#000" stroke-width="0.9"/>
<line x1="79.30" y1="79.12" x2="82.30" y2="79.12" stroke="#000" stroke-width="0.9"/>
<line x1="392.60" y1="79.12" x2="395.60" y2="79.12" stroke="#000" stroke-width="0.9"/>
<line x1="79.30" y1="77.59" x2="82.30" y2="77.59" stroke="#000" stroke-width="0.9"/>
<line x1="392.60" y1="77.59" x2="395.60" y2="77.59" stroke="#000" stroke-width="0.9"/>
<line x1="79.30" y1="76.33" x2="82.30" y2="76.33" stroke="#000" stroke-width="0.9"/>
<line x1="392.60" y1="76.33" x2="395.60" y2="76.33" stroke="#000" stroke-width="0.9"/>
<line x1="79.30" y1="75.27" x2="82.30" y2="75.27" stroke="#000" stroke-width="0.9"/>
<line x1="392.60" y1="75.27" x2="395.60" y2="75.27" stroke="#000" stroke-width="0.9"/>
<line x1="79.30" y1="74.36" x2="82.30" y2="74.36" stroke="#000" stroke-width="0.9"/>
<line x1="392.60" y1="74.36" x2="395.60" y2="74.36" stroke="#000" stroke-width="0.9"/>
<line x1="79.30" y1="73.55" x2="82.30" y2="73.55" stroke="#000" stroke-width="0.9"/>
<line x1="392.60" y1="73.55" x2="395.60" y2="73.55" stroke="#000" stroke-width="0.9"/>
<line x1="76.80" y1="88.64" x2="82.30" y2="88.64" stroke="#000" stroke-width="1.1"/>
<line x1="390.10" y1="88.64" x2="395.60" y2="88.64" stroke="#000" stroke-width="1.1"/>
<line x1="79.30" y1="99.69" x2="82.30" y2="99.69" stroke="#000" stroke-width="0.9"/>
<line x1="392.60" y1="99.69" x2="395.60" y2="99.69" stroke="#000" stroke-width="0.9"/>
<line x1="79.30" y1="96.91" x2="82.30" y2="96.91" stroke="#000" stroke-width="0.9"/>
<line x1="392.60" y1="96.91" x2="395.60" y2="96.91" stroke="#000" stroke-width="0.9"/>
<line x1="79.30" y1="94.93" x2="82.30" y2="94.93" stroke="#000" stroke-width="0.9"/>
<line x1="392.60" y1="94.93" x2="395.60" y2="94.93" stroke="#000" stroke-width="0.9"/>
<line x1="79.30" y1="93.40" x2="82.30" y2="93.40" stroke="#000" stroke-width="0.9"/>
<line x1="392.60" y1="93.40" x2="395.60" y2="93.40" stroke="#000" stroke-width="0.9"/>
<line x1="79.30" y1="92.15" x2="82.30" y2="92.15" stroke="#000" stroke-width="0.9"/>
<line x1="392.60" y1="92.15" x2="395.60" y2="92.15" stroke="#000" stroke-width="0.9"/>
<line x1="79.30" y1="91.09" x2="82.30" y2="91.09" stroke="#000" stroke-width="0.9"/>
<line x1="392.60" y1="91.09" x2="395.60" y2="91.09" stroke="#000" stroke-width="0.9"/>
<line x1="79.30" y1="90.17" x2="82.30" y2="90.17" stroke="#000" stroke-width="0.9"/>
<line x1="392.60" y1="90.17" x2="395.60" y2="90.17" stroke="#000" stroke-width="0.9"/>
<line x1="79.30" y1="89.36" x2="82.30" y2="89.36" stroke="#000" stroke-width="0.9"/>
<line x1="392.60" y1="89.36" x2="395.60" y2="89.36" stroke="#000" stroke-width="0.9"/>
<line x1="76.80" y1="104.45" x2="82.30" y2="104.45" stroke="#000" stroke-width="1.1"/>
<line x1="390.10" y1="104.45" x2="395.60" y2="104.45" stroke="#000" stroke-width="1.1"/>
<line x1="79.30" y1="115.50" x2="82.30" y2="115.50" stroke="#000" stroke-width="0.9"/>
<line x1="392.60" y1="115.50" x2="395.60" y2="115.50" stroke="#000" stroke-width="0.9"/>
<line x1="79.30" y1="112.72" x2="82.30" y2="112.72" stroke="#000" stroke-width="0.9"/>
<line x1="392.60" y1="112.72" x2="395.60" y2="112.72" stroke="#000" stroke-width="0.9"/>
<line x1="79.30" y1="110.74" x2="82.30" y2="110.74" stroke="#000" stroke-width="0.9"/>
<line x1="392.60" y1="110.74" x2="395.60" y2="110.74" stroke="#000" stroke-width="0.9"/>
<line x1="79.30" y1="109.21" x2="82.30" y2="109.21" stroke="#000" stroke-width="0.9"/>
<line x1="392.60" y1="109.21" x2="395.60" y2="109.21" stroke="#000" stroke-width="0.9"/>
<line x1="79.30" y1="107.96" x2="82.30" y2="107.96" stroke="#000" stroke-width="0.9"/>
<line x1="392.60" y1="107.96" x2="395.60" y2="107.96" stroke="#000" stroke-width="0.9"/>
<line x1="79.30" y1="106.90" x2="82.30" y2="106.90" stroke="#000" stroke-width="0.9"/>
<line x1="392.60" y1="106.90" x2="395.60" y2="106.90" stroke="#000" stroke-width="0.9"/>
<line x1="79.30" y1="105.98" x2="82.30" y2="105.98" stroke="#000" stroke-width="0.9"/>
<line x1="392.60" y1="105.98" x2="395.60" y2="105.98" stroke="#000" stroke-width="0.9"/>
<line x1="79.30" y1="105.17" x2="82.30" y2="105.17" stroke="#000" stroke-width="0.9"/>
<line x1="392.60" y1="105.17" x2="395.60" y2="105.17" stroke="#000" stroke-width="0.9"/>
<line x1="76.80" y1="120.26" x2="82.30" y2="120.26" stroke="#000" stroke-width="1.1"/>
<line x1="390.10" y1="120.26" x2="395.60" y2="120.26" stroke="#000" stroke-width="1.1"/>
<line x1="79.30" y1="131.31" x2="82.30" y2="131.31" stroke="#000" stroke-width="0.9"/>
<line x1="392.60" y1="131.31" x2="395.60" y2="131.31" stroke="#000" stroke-width="0.9"/>
<line x1="79.30" y1="128.53" x2="82.30" y2="128.53" stroke="#000" stroke-width="0.9"/>
<line x1="392.60" y1="128.53" x2="395.60" y2="128.53" stroke="#000" stroke-width="0.9"/>
<line x1="79.30" y1="126.55" x2="82.30" y2="126.55" stroke="#000" stroke-width="0.9"/>
<line x1="392.60" y1="126.55" x2="395.60" y2="126.55" stroke="#000" stroke-width="0.9"/>
<line x1="79.30" y1="125.02" x2="82.30" y2="125.02" stroke="#000" stroke-width="0.9"/>
<line x1="392.60" y1="125.02" x2="395.60" y2="125.02" stroke="#000" stroke-width="0.9"/>
<line x1="79.30" y1="123.77" x2="82.30" y2="123.77" stroke="#000" stroke-width="0.9"/>
<line x1="392.60" y1="123.77" x2="395.60" y2="123.77" stroke="#000" stroke-width="0.9"/>
<line x1="79.30" y1="122.71" x2="82.30" y2="122.71" stroke="#000" stroke-width="0.9"/>
<line x1="392.60" y1="122.71" x2="395.60" y2="122.71" stroke="#000" stroke-width="0.9"/>
<line x1="79.30" y1="121.79" x2="82.30" y2="121.79" stroke="#000" stroke-width="0.9"/>
<line x1="392.60" y1="121.79" x2="395.60" y2="121.79" stroke="#000" stroke-width="0.9"/>
<line x1="79.30" y1="120.99" x2="82.30" y2="120.99" stroke="#000" stroke-width="0.9"/>
<line x1="392.60" y1="120.99" x2="395.60" y2="120.99" stroke="#000" stroke-width="0.9"/>
<line x1="76.80" y1="136.07" x2="82.30" y2="136.07" stroke="#000" stroke-width="1.1"/>
<line x1="390.10" y1="136.07" x2="395.60" y2="136.07" stroke="#000" stroke-width="1.1"/>
<line x1="79.30" y1="147.13" x2="82.30" y2="147.13" stroke="#000" stroke-width="0.9"/>
<line x1="392.60" y1="147.13" x2="395.60" y2="147.13" stroke="#000" stroke-width="0.9"/>
<line x1="79.30" y1="144.34" x2="82.30" y2="144.34" stroke="#000" stroke-width="0.9"/>
<line x1="392.60" y1="144.34" x2="395.60" y2="144.34" stroke="#000" stroke-width="0.9"/>
<line x1="79.30" y1="142.37" x2="82.30" y2="142.37" stroke="#000" stroke-width="0.9"/>
<line x1="392.60" y1="142.37" x2="395.60" y2="142.37" stroke="#000" stroke-width="0.9"/>
<line x1="79.30" y1="140.84" x2="82.30" y2="140.84" stroke="#000" stroke-width="0.9"/>
<line x1="392.60" y1="140.84" x2="395.60" y2="140.84" stroke="#000" stroke-width="0.9"/>
<line x1="79.30" y1="139.58" x2="82.30" y2="139.58" stroke="#000" stroke-width="0.9"/>
<line x1="392.60" y1="139.58" x2="395.60" y2="139.58" stroke="#000" stroke-width="0.9"/>
<line x1="79.30" y1="138.52" x2="82.30" y2="138.52" stroke="#000" stroke-width="0.9"/>
<line x1="392.60" y1="138.52" x2="395.60" y2="138.52" stroke="#000" stroke-width="0.9"/>
<line x1="79.30" y1="137.61" x2="82.30" y2="137.61" stroke="#000" stroke-width="0.9"/>
<line x1="392.60" y1="137.61" x2="395.60" y2="137.61" stroke="#000" stroke-width="0.9"/>
<line x1="79.30" y1="136.80" x2="82.30" y2="136.80" stroke="#000" stroke-width="0.9"/>
<line x1="392.60" y1="136.80" x2="395.60" y2="136.80" stroke="#000" stroke-width="0.9"/>
<line x1="76.80" y1="151.89" x2="82.30" y2="151.89" stroke="#000" stroke-width="1.1"/>
<line x1="390.10" y1="151.89" x2="395.60" y2="151.89" stroke="#000" stroke-width="1.1"/>
<line x1="79.30" y1="162.94" x2="82.30" y2="162.94" stroke="#000" stroke-width="0.9"/>
<line x1="392.60" y1="162.94" x2="395.60" y2="162.94" stroke="#000" stroke-width="0.9"/>
<line x1="79.30" y1="160.16" x2="82.30" y2="160.16" stroke="#000" stroke-width="0.9"/>
<line x1="392.60" y1="160.16" x2="395.60" y2="160.16" stroke="#000" stroke-width="0.9"/>
<line x1="79.30" y1="158.18" x2="82.30" y2="158.18" stroke="#000" stroke-width="0.9"/>
<line x1="392.60" y1="158.18" x2="395.60" y2="158.18" stroke="#000" stroke-width="0.9"/>
<line x1="79.30" y1="156.65" x2="82.30" y2="156.65" stroke="#000" stroke-width="0.9"/>
<line x1="392.60" y1="156.65" x2="395.60" y2="156.65" stroke="#000" stroke-width="0.9"/>
<line x1="79.30" y1="155.40" x2="82.30" y2="155.40" stroke="#000" stroke-width="0.9"/>
<line x1="392.60" y1="155.40" x2="395.60" y2="155.40" stroke="#000" stroke-width="0.9"/>
<line x1="79.30" y1="154.34" x2="82.30" y2="154.34" stroke="#000" stroke-width="0.9"/>
<line x1="392.60" y1="154.34" x2="395.60" y2="154.34" stroke="#000" stroke-width="0.9"/>
<line x1="79.30" y1="153.42" x2="82.30" y2="153.42" stroke="#000" stroke-width="0.9"/>
<line x1="392.60" y1="153.42" x2="395.60" y2="153.42" stroke="#000" stroke-width="0.9"/>
<line x1="79.30" y1="152.61" x2="82.30" y2="152.61" stroke="#000" stroke-width="0.9"/>
<line x1="392.60" y1="152.61" x2="395.60" y2="152.61" stroke="#000" stroke-width="0.9"/>
<line x1="76.80" y1="167.70" x2="82.30" y2="167.70" stroke="#000" stroke-width="1.1"/>
<line x1="390.10" y1="167.70" x2="395.60" y2="167.70" stroke="#000" stroke-width="1.1"/>
<line x1="79.30" y1="178.75" x2="82.30" y2="178.75" stroke="#000" stroke-width="0.9"/>
<line x1="392.60" y1="178.75" x2="395.60" y2="178.75" stroke="#000" stroke-width="0.9"/>
<line x1="79.30" y1="175.97" x2="82.30" y2="175.97" stroke="#000" stroke-width="0.9"/>
<line x1="392.60" y1="175.97" x2="395.60" y2="175.97" stroke="#000" stroke-width="0.9"/>
<line x1="79.30" y1="173.99" x2="82.30" y2="173.99" stroke="#000" stroke-width="0.9"/>
<line x1="392.60" y1="173.99" x2="395.60" y2="173.99" stroke="#000" stroke-width="0.9"/>
<line x1="79.30" y1="172.46" x2="82.30" y2="172.46" stroke="#000" stroke-width="0.9"/>
<line x1="392.60" y1="172.46" x2="395.60" y2="172.46" stroke="#000" stroke-width="0.9"/>
<line x1="79.30" y1="171.21" x2="82.30" y2="171.21" stroke="#000" stroke-width="0.9"/>
<line x1="392.60" y1="171.21" x2="395.60" y2="171.21" stroke="#000" stroke-width="0.9"/>
<line x1="79.30" y1="170.15" x2="82.30" y2="170.15" stroke="#000" stroke-width="0.9"/>
<line x1="392.60" y1="170.15" x2="395.60" y2="170.15" stroke="#000" stroke-width="0.9"/>
<line x1="79.30" y1="169.23" x2="82.30" y2="169.23" stroke="#000" stroke-width="0.9"/>
<line x1="392.60" y1="169.23" x2="395.60" y2="169.23" stroke="#000" stroke-width="0.9"/>
<line x1="79.30" y1="168.42" x2="82.30" y2="168.42" stroke="#000" stroke-width="0.9"/>
<line x1="392.60" y1="168.42" x2="395.60" y2="168.42" stroke="#000" stroke-width="0.9"/>
<line x1="76.80" y1="183.51" x2="82.30" y2="183.51" stroke="#000" stroke-width="1.1"/>
<line x1="390.10" y1="183.51" x2="395.60" y2="183.51" stroke="#000" stroke-width="1.1"/>
<line x1="79.30" y1="194.56" x2="82.30" y2="194.56" stroke="#000" stroke-width="0.9"/>
<line x1="392.60" y1="194.56" x2="395.60" y2="194.56" stroke="#000" stroke-width="0.9"/>
<line x1="79.30" y1="191.78" x2="82.30" y2="191.78" stroke="#000" stroke-width="0.9"/>
<line x1="392.60" y1="191.78" x2="395.60" y2="191.78" stroke="#000" stroke-width="0.9"/>
<line x1="79.30" y1="189.80" x2="82.30" y2="189.80" stroke="#000" stroke-width="0.9"/>
<line x1="392.60" y1="189.80" x2="395.60" y2="189.80" stroke="#000" stroke-width="0.9"/>
<line x1="79.30" y1="188.27" x2="82.30" y2="188.27" stroke="#000" stroke-width="0.9"/>
<line x1="392.60" y1="188.27" x2="395.60" y2="188.27" stroke="#000" stroke-width="0.9"/>
<line x1="79.30" y1="187.02" x2="82.30" y2="187.02" stroke="#000" stroke-width="0.9"/>
<line x1="392.60" y1="187.02" x2="395.60" y2="187.02" stroke="#000" stroke-width="0.9"/>
<line x1="79.30" y1="185.96" x2="82.30" y2="185.96" stroke="#000" stroke-width="0.9"/>
<line x1="392.60" y1="185.96" x2="395.60" y2="185.96" stroke="#000" stroke-width="0.9"/>
<line x1="79.30" y1="185.04" x2="82.30" y2="185.04" stroke="#000" stroke-width="0.9"/>
<line x1="392.60" y1="185.04" x2="395.60" y2="185.04" stroke="#000" stroke-width="0.9"/>
<line x1="79.30" y1="184.24" x2="82.30" y2="184.24" stroke="#000" stroke-width="0.9"/>
<line x1="392.60" y1="184.24" x2="395.60" y2="184.24" stroke="#000" stroke-width="0.9"/>
<line x1="76.80" y1="199.32" x2="82.30" y2="199.32" stroke="#000" stroke-width="1.1"/>
<line x1="390.10" y1="199.32" x2="395.60" y2="199.32" stroke="#000" stroke-width="1.1"/>
<line x1="79.30" y1="210.38" x2="82.30" y2="210.38" stroke="#000" stroke-width="0.9"/>
<line x1="392.60" y1="210.38" x2="395.60" y2="210.38" stroke="#000" stroke-width="0.9"/>
<line x1="79.30" y1="207.59" x2="82.30" y2="207.59" stroke="#000" stroke-width="0.9"/>
<line x1="392.60" y1="207.59" x2="395.60" y2="207.59" stroke="#000" stroke-width="0.9"/>
<line x1="79.30" y1="205.62" x2="82.30" y2="205.62" stroke="#000" stroke-width="0.9"/>
<line x1="392.60" y1="205.62" x2="395.60" y2="205.62" stroke="#000" stroke-width="0.9"/>
<line x1="79.30" y1="204.09" x2="82.30" y2="204.09" stroke="#000" stroke-width="0.9"/>
<line x1="392.60" y1="204.09" x2="395.60" y2="204.09" stroke="#000" stroke-width="0.9"/>
<line x1="79.30" y1="202.83" x2="82.30" y2="202.83" stroke="#000" stroke-width="0.9"/>
<line x1="392.60" y1="202.83" x2="395.60" y2="202.83" stroke="#000" stroke-width="0.9"/>
<line x1="79.30" y1="201.77" x2="82.30" y2="201.77" stroke="#000" stroke-width="0.9"/>
<line x1="392.60" y1="201.77" x2="395.60" y2="201.77" stroke="#000" stroke-width="0.9"/>
<line x1="79.30" y1="200.86" x2="82.30" y2="200.86" stroke="#000" stroke-width="0.9"/>
<line x1="392.60" y1="200.86" x2="395.60" y2="200.86" stroke="#000" stroke-width="0.9"/>
<line x1="79.30" y1="200.05" x2="82.30" y2="200.05" stroke="#000" stroke-width="0.9"/>
<line x1="392.60" y1="200.05" x2="395.60" y2="200.05" stroke="#000" stroke-width="0.9"/>
<line x1="76.80" y1="215.14" x2="82.30" y2="215.14" stroke="#000" stroke-width="1.1"/>
<line x1="390.10" y1="215.14" x2="395.60" y2="215.14" stroke="#000" stroke-width="1.1"/>
<line x1="79.30" y1="226.19" x2="82.30" y2="226.19" stroke="#000" stroke-width="0.9"/>
<line x1="392.60" y1="226.19" x2="395.60" y2="226.19" stroke="#000" stroke-width="0.9"/>
<line x1="79.30" y1="223.41" x2="82.30" y2="223.41" stroke="#000" stroke-width="0.9"/>
<line x1="392.60" y1="223.41" x2="395.60" y2="223.41" stroke="#000" stroke-width="0.9"/>
<line x1="79.30" y1="221.43" x2="82.30" y2="221.43" stroke="#000" stroke-width="0.9"/>
<line x1="392.60" y1="221.43" x2="395.60" y2="221.43" stroke="#000" stroke-width="0.9"/>
<line x1="79.30" y1="219.90" x2="82.30" y2="219.90" stroke="#000" stroke-width="0.9"/>
<line x1="392.60" y1="219.90" x2="395.60" y2="219.90" stroke="#000" stroke-width="0.9"/>
<line x1="79.30" y1="218.65" x2="82.30" y2="218.65" stroke="#000" stroke-width="0.9"/>
<line x1="392.60" y1="218.65" x2="395.60" y2="218.65" stroke="#000" stroke-width="0.9"/>
<line x1="79.30" y1="217.59" x2="82.30" y2="217.59" stroke="#000" stroke-width="0.9"/>
<line x1="392.60" y1="217.59" x2="395.60" y2="217.59" stroke="#000" stroke-width="0.9"/>
<line x1="79.30" y1="216.67" x2="82.30" y2="216.67" stroke="#000" stroke-width="0.9"/>
<line x1="392.60" y1="216.67" x2="395.60" y2="216.67" stroke="#000" stroke-width="0.9"/>
<line x1="79.30" y1="215.86" x2="82.30" y2="215.86" stroke="#000" stroke-width="0.9"/>
<line x1="392.60" y1="215.86" x2="395.60" y2="215.86" stroke="#000" stroke-width="0.9"/>
<line x1="76.80" y1="230.95" x2="82.30" y2="230.95" stroke="#000" stroke-width="1.1"/>
<line x1="390.10" y1="230.95" x2="395.60" y2="230.95" stroke="#000" stroke-width="1.1"/>
<line x1="79.30" y1="242.00" x2="82.30" y2="242.00" stroke="#000" stroke-width="0.9"/>
<line x1="392.60" y1="242.00" x2="395.60" y2="242.00" stroke="#000" stroke-width="0.9"/>
<line x1="79.30" y1="239.22" x2="82.30" y2="239.22" stroke="#000" stroke-width="0.9"/>
<line x1="392.60" y1="239.22" x2="395.60" y2="239.22" stroke="#000" stroke-width="0.9"/>
<line x1="79.30" y1="237.24" x2="82.30" y2="237.24" stroke="#000" stroke-width="0.9"/>
<line x1="392.60" y1="237.24" x2="395.60" y2="237.24" stroke="#000" stroke-width="0.9"/>
<line x1="79.30" y1="235.71" x2="82.30" y2="235.71" stroke="#000" stroke-width="0.9"/>
<line x1="392.60" y1="235.71" x2="395.60" y2="235.71" stroke="#000" stroke-width="0.9"/>
<line x1="79.30" y1="234.46" x2="82.30" y2="234.46" stroke="#000" stroke-width="0.9"/>
<line x1="392.60" y1="234.46" x2="395.60" y2="234.46" stroke="#000" stroke-width="0.9"/>
<line x1="79.30" y1="233.40" x2="82.30" y2="233.40" stroke="#000" stroke-width="0.9"/>
<line x1="392.60" y1="233.40" x2="395.60" y2="233.40" stroke="#000" stroke-width="0.9"/>
<line x1="79.30" y1="232.48" x2="82.30" y2="232.48" stroke="#000" stroke-width="0.9"/>
<line x1="392.60" y1="232.48" x2="395.60" y2="232.48" stroke="#000" stroke-width="0.9"/>
<line x1="79.30" y1="231.67" x2="82.30" y2="231.67" stroke="#000" stroke-width="0.9"/>
<line x1="392.60" y1="231.67" x2="395.60" y2="231.67" stroke="#000" stroke-width="0.9"/>
<line x1="76.80" y1="246.76" x2="82.30" y2="246.76" stroke="#000" stroke-width="1.1"/>
<line x1="390.10" y1="246.76" x2="395.60" y2="246.76" stroke="#000" stroke-width="1.1"/>
<line x1="79.30" y1="257.81" x2="82.30" y2="257.81" stroke="#000" stroke-width="0.9"/>
<line x1="392.60" y1="257.81" x2="395.60" y2="257.81" stroke="#000" stroke-width="0.9"/>
<line x1="79.30" y1="255.03" x2="82.30" y2="255.03" stroke="#000" stroke-width="0.9"/>
<line x1="392.60" y1="255.03" x2="395.60" y2="255.03" stroke="#000" stroke-width="0.9"/>
<line x1="79.30" y1="253.05" x2="82.30" y2="253.05" stroke="#000" stroke-width="0.9"/>
<line x1="392.60" y1="253.05" x2="395.60" y2="253.05" stroke="#000" stroke-width="0.9"/>
<line x1="79.30" y1="251.52" x2="82.30" y2="251.52" stroke="#000" stroke-width="0.9"/>
<line x1="392.60" y1="251.52" x2="395.60" y2="251.52" stroke="#000" stroke-width="0.9"/>
<line x1="79.30" y1="250.27" x2="82.30" y2="250.27" stroke="#000" stroke-width="0.9"/>
<line x1="392.60" y1="250.27" x2="395.60" y2="250.27" stroke="#000" stroke-width="0.9"/>
<line x1="79.30" y1="249.21" x2="82.30" y2="249.21" stroke="#000" stroke-width="0.9"/>
<line x1="392.60" y1="249.21" x2="395.60" y2="249.21" stroke="#000" stroke-width="0.9"/>
<line x1="79.30" y1="248.29" x2="82.30" y2="248.29" stroke="#000" stroke-width="0.9"/>
<line x1="392.60" y1="248.29" x2="395.60" y2="248.29" stroke="#000" stroke-width="0.9"/>
<line x1="79.30" y1="247.49" x2="82.30" y2="247.49" stroke="#000" stroke-width="0.9"/>
<line x1="392.60" y1="247.49" x2="395.60" y2="247.49" stroke="#000" stroke-width="0.9"/>
<line x1="76.80" y1="262.57" x2="82.30" y2="262.57" stroke="#000" stroke-width="1.1"/>
<line x1="390.10" y1="262.57" x2="395.60" y2="262.57" stroke="#000" stroke-width="1.1"/>
<line x1="79.30" y1="273.63" x2="82.30" y2="273.63" stroke="#000" stroke-width="0.9"/>
<line x1="392.60" y1="273.63" x2="395.60" y2="273.63" stroke="#000" stroke-width="0.9"/>
<line x1="79.30" y1="270.84" x2="82.30" y2="270.84" stroke="#000" stroke-width="0.9"/>
<line x1="392.60" y1="270.84" x2="395.60" y2="270.84" stroke="#000" stroke-width="0.9"/>
<line x1="79.30" y1="268.87" x2="82.30" y2="268.87" stroke="#000" stroke-width="0.9"/>
<line x1="392.60" y1="268.87" x2="395.60" y2="268.87" stroke="#000" stroke-width="0.9"/>
<line x1="79.30" y1="267.34" x2="82.30" y2="267.34" stroke="#000" stroke-width="0.9"/>
<line x1="392.60" y1="267.34" x2="395.60" y2="267.34" stroke="#000" stroke-width="0.9"/>
<line x1="79.30" y1="266.08" x2="82.30" y2="266.08" stroke="#000" stroke-width="0.9"/>
<line x1="392.60" y1="266.08" x2="395.60" y2="266.08" stroke="#000" stroke-width="0.9"/>
<line x1="79.30" y1="265.02" x2="82.30" y2="265.02" stroke="#000" stroke-width="0.9"/>
<line x1="392.60" y1="265.02" x2="395.60" y2="265.02" stroke="#000" stroke-width="0.9"/>
<line x1="79.30" y1="264.11" x2="82.30" y2="264.11" stroke="#000" stroke-width="0.9"/>
<line x1="392.60" y1="264.11" x2="395.60" y2="264.11" stroke="#000" stroke-width="0.9"/>
<line x1="79.30" y1="263.30" x2="82.30" y2="263.30" stroke="#000" stroke-width="0.9"/>
<line x1="392.60" y1="263.30" x2="395.60" y2="263.30" stroke="#000" stroke-width="0.9"/>
<line x1="76.80" y1="278.39" x2="82.30" y2="278.39" stroke="#000" stroke-width="1.1"/>
<line x1="390.10" y1="278.39" x2="395.60" y2="278.39" stroke="#000" stroke-width="1.1"/>
<line x1="79.30" y1="289.44" x2="82.30" y2="289.44" stroke="#000" stroke-width="0.9"/>
<line x1="392.60" y1="289.44" x2="395.60" y2="289.44" stroke="#000" stroke-width="0.9"/>
<line x1="79.30" y1="286.66" x2="82.30" y2="286.66" stroke="#000" stroke-width="0.9"/>
<line x1="392.60" y1="286.66" x2="395.60" y2="286.66" stroke="#000" stroke-width="0.9"/>
<line x1="79.30" y1="284.68" x2="82.30" y2="284.68" stroke="#000" stroke-width="0.9"/>
<line x1="392.60" y1="284.68" x2="395.60" y2="284.68" stroke="#000" stroke-width="0.9"/>
<line x1="79.30" y1="283.15" x2="82.30" y2="283.15" stroke="#000" stroke-width="0.9"/>
<line x1="392.60" y1="283.15" x2="395.60" y2="283.15" stroke="#000" stroke-width="0.9"/>
<line x1="79.30" y1="281.90" x2="82.30" y2="281.90" stroke="#000" stroke-width="0.9"/>
<line x1="392.60" y1="281.90" x2="395.60" y2="281.90" stroke="#000" stroke-width="0.9"/>
<line x1="79.30" y1="280.84" x2="82.30" y2="280.84" stroke="#000" stroke-width="0.9"/>
<line x1="392.60" y1="280.84" x2="395.60" y2="280.84" stroke="#000" stroke-width="0.9"/>
<line x1="79.30" y1="279.92" x2="82.30" y2="279.92" stroke="#000" stroke-width="0.9"/>
<line x1="392.60" y1="279.92" x2="395.60" y2="279.92" stroke="#000" stroke-width="0.9"/>
<line x1="79.30" y1="279.11" x2="82.30" y2="279.11" stroke="#000" stroke-width="0.9"/>
<line x1="392.60" y1="279.11" x2="395.60" y2="279.11" stroke="#000" stroke-width="0.9"/>
<line x1="76.80" y1="294.20" x2="82.30" y2="294.20" stroke="#000" stroke-width="1.1"/>
<line x1="390.10" y1="294.20" x2="395.60" y2="294.20" stroke="#000" stroke-width="1.1"/>
<line x1="82.30" y1="294.20" x2="82.30" y2="299.20" stroke="#000" stroke-width="1.0"/>
<line x1="82.30" y1="41.20" x2="82.30" y2="46.20" stroke="#000" stroke-width="1.0"/>
<line x1="136.30" y1="294.20" x2="136.30" y2="297.20" stroke="#000" stroke-width="1.0"/>
<line x1="136.30" y1="41.20" x2="136.30" y2="44.20" stroke="#000" stroke-width="1.0"/>
<line x1="190.30" y1="294.20" x2="190.30" y2="299.20" stroke="#000" stroke-width="1.0"/>
<line x1="190.30" y1="41.20" x2="190.30" y2="46.20" stroke="#000" stroke-width="1.0"/>
<line x1="244.30" y1="294.20" x2="244.30" y2="297.20" stroke="#000" stroke-width="1.0"/>
<line x1="244.30" y1="41.20" x2="244.30" y2="44.20" stroke="#000" stroke-width="1.0"/>
<line x1="298.30" y1="294.20" x2="298.30" y2="299.20" stroke="#000" stroke-width="1.0"/>
<line x1="298.30" y1="41.20" x2="298.30" y2="46.20" stroke="#000" stroke-width="1.0"/>
<line x1="352.30" y1="294.20" x2="352.30" y2="297.20" stroke="#000" stroke-width="1.0"/>
<line x1="352.30" y1="41.20" x2="352.30" y2="44.20" stroke="#000" stroke-width="1.0"/>
<line x1="91.8" y1="226.8" x2="129.9" y2="226.8" stroke="#0000ff" stroke-width="1.3"/>
<line x1="91.8" y1="250.5" x2="129.9" y2="250.5" stroke="#ff0000" stroke-width="1.3" stroke-dasharray="5 3.6"/>
<line x1="92.1" y1="274.3" x2="129.9" y2="274.3" stroke="#00ff00" stroke-width="1.4" stroke-dasharray="1.4 3.75"/>
<text x="133.9" y="232.3" font-family="Liberation Sans, sans-serif" font-size="11.8" font-style="italic" fill="#1a1a1a">k<tspan dy="-5.3" dx="0.3" font-size="6.6">3</tspan><tspan dy="5.3" dx="0.6">P</tspan><tspan dy="4" font-size="10" font-style="italic">R</tspan><tspan dy="-4" dx="2.6" font-size="11.5">/(2</tspan><tspan font-size="10.4">π</tspan><tspan dy="-5.3" dx="0.2" font-size="6.6">2</tspan><tspan dy="5.3" dx="0.8" font-size="11.5">)</tspan></text>
<text x="133.9" y="256.2" font-family="Liberation Sans, sans-serif" font-size="11.8" font-style="italic" fill="#1a1a1a">k<tspan dy="-5.3" dx="0.3" font-size="6.6">3</tspan><tspan dy="5.3" dx="0.6">P</tspan><tspan dy="4" font-size="9.6" font-style="italic">ζϕ</tspan><tspan dy="-4" dx="2.5" font-size="11.5">/(2</tspan><tspan font-size="10.4">π</tspan><tspan dy="-5.3" dx="0.2" font-size="6.6">2</tspan><tspan dy="5.3" dx="0.8" font-size="11.5">)</tspan></text>
<text x="133.9" y="279.8" font-family="Liberation Sans, sans-serif" font-size="11.8" font-style="italic" fill="#1a1a1a">k<tspan dy="-5.3" dx="0.3" font-size="6.6">3</tspan><tspan dy="5.3" dx="0.6">P</tspan><tspan dy="4" font-size="10" font-style="italic">ζr</tspan><tspan dy="-4" dx="3.6" font-size="11.5">/(2</tspan><tspan font-size="10.4">π</tspan><tspan dy="-5.3" dx="0.2" font-size="6.6">2</tspan><tspan dy="5.3" dx="0.8" font-size="11.5">)</tspan></text>
<text x="74.1" y="45.8" font-family="Liberation Sans, sans-serif" font-size="11.8" text-anchor="end" fill="#000">10<tspan dy="-6.6" dx="0.4" font-size="6.8">-8</tspan></text>
<text x="74.1" y="109.0" font-family="Liberation Sans, sans-serif" font-size="11.8" text-anchor="end" fill="#000">10<tspan dy="-6.6" dx="0.4" font-size="6.8">-12</tspan></text>
<text x="74.1" y="172.3" font-family="Liberation Sans, sans-serif" font-size="11.8" text-anchor="end" fill="#000">10<tspan dy="-6.6" dx="0.4" font-size="6.8">-16</tspan></text>
<text x="74.1" y="235.5" font-family="Liberation Sans, sans-serif" font-size="11.8" text-anchor="end" fill="#000">10<tspan dy="-6.6" dx="0.4" font-size="6.8">-20</tspan></text>
<text x="74.1" y="298.8" font-family="Liberation Sans, sans-serif" font-size="11.8" text-anchor="end" fill="#000">10<tspan dy="-6.6" dx="0.4" font-size="6.8">-24</tspan></text>
<text transform="translate(81.8,311.8) scale(1,1.07)" font-family="Liberation Sans, sans-serif" font-size="11.7" text-anchor="middle" fill="#000">60</text>
<text transform="translate(189.8,311.8) scale(1,1.07)" font-family="Liberation Sans, sans-serif" font-size="11.7" text-anchor="middle" fill="#000">61</text>
<text transform="translate(297.8,311.8) scale(1,1.07)" font-family="Liberation Sans, sans-serif" font-size="11.7" text-anchor="middle" fill="#000">62</text>
<text x="243.6" y="338" font-family="Liberation Sans, sans-serif" font-size="17" font-style="italic" text-anchor="middle" fill="#000">N</text>
</svg></body></html>
